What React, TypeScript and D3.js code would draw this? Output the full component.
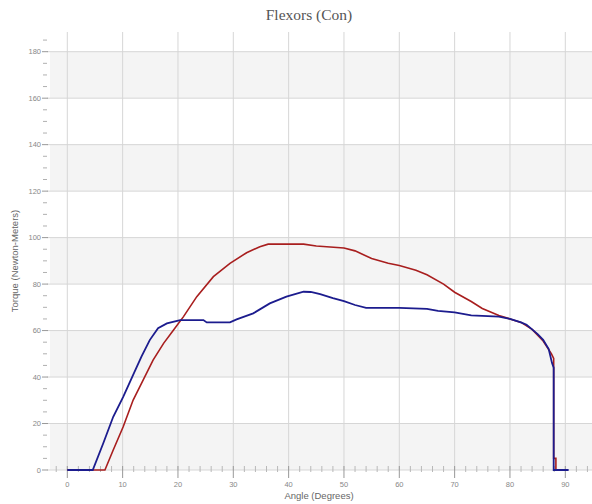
import React, { useEffect, useRef } from 'react';
import * as d3 from 'd3';

// angle (degrees) / torque (N-m) readings
const blueAngles = [0, 4.6, 6.5, 8.3, 10.1, 11.9, 13.4, 14.9, 16.4, 18, 20.4, 24.6, 25.2, 29.4, 30.6, 33.6, 36.6, 39.6, 42.7, 44, 45.7, 48, 50, 52, 54, 60, 65, 67, 70, 73, 78, 80, 82, 83, 84, 85, 86, 87, 87.6, 87.9, 87.9, 90.6];
const blueTorque = [0, 0, 11.5, 22.9, 31.5, 40.9, 48.8, 55.9, 61, 63.1, 64.5, 64.5, 63.5, 63.5, 64.8, 67.4, 71.7, 74.6, 76.7, 76.6, 75.7, 74, 72.7, 71, 69.8, 69.8, 69.3, 68.5, 67.8, 66.5, 66, 65, 63.5, 62.5, 60.5, 58.5, 56, 52, 46, 44, 0, 0];

const redAngles = [0, 6.8, 8.3, 10.1, 11.9, 13.7, 15.5, 17.4, 19.2, 21, 23.4, 26.4, 29.4, 32.4, 34.8, 36.3, 42.7, 45, 50, 52, 55, 58, 60, 63, 65, 68, 70, 73, 75, 78, 80, 82, 84, 86, 87.5, 87.9, 87.9, 88.3, 88.3, 89];
const redTorque = [0, 0, 8.6, 18.6, 30.1, 38.7, 47.3, 54.5, 60.2, 66, 74.6, 83.2, 88.9, 93.5, 96.1, 97.2, 97.2, 96.4, 95.5, 94.3, 91, 89, 88, 86, 84, 80, 76.5, 72.5, 69.5, 66.5, 65, 63.5, 60.5, 55.5, 50, 48, 5, 5, 0, 0];

const yMajor = [0, 20, 40, 60, 80, 100, 120, 140, 160, 180];
const xMajor = [0, 10, 20, 30, 40, 50, 60, 70, 80, 90];

export default function App() {
  const svgRef = useRef<SVGSVGElement>(null);

  useEffect(() => {
    const width = 592;
    const height = 504;
    const plotLeft = 48;
    const plotTop = 32;

    const svg = d3.select(svgRef.current);
    svg.selectAll('*').remove();
    svg.attr('width', width).attr('height', height);

    const x = d3.scaleLinear().domain([0, 90]).range([67.3, 565.3]);
    const y = d3.scaleLinear().domain([0, 180]).range([470, 51.7]);
    const yTopValue = y.invert(plotTop);

    svg.append('rect').attr('width', width).attr('height', height).attr('fill', '#ffffff');

    // alternating bands
    const bands = d3.range(0, 180, 40);
    svg.append('g')
      .selectAll('rect')
      .data(bands)
      .enter()
      .append('rect')
      .attr('x', plotLeft + 2)
      .attr('width', width - plotLeft - 2)
      .attr('y', d => y(d + 20))
      .attr('height', d => y(d) - y(d + 20))
      .attr('fill', '#f4f4f4');

    // vertical grid
    svg.append('g')
      .selectAll('line')
      .data(xMajor)
      .enter()
      .append('line')
      .attr('x1', d => x(d)).attr('x2', d => x(d))
      .attr('y1', y(yTopValue)).attr('y2', y(0))
      .attr('stroke', '#d6d6d6')
      .attr('stroke-width', 1);

    // horizontal grid
    svg.append('g')
      .selectAll('line')
      .data(yMajor)
      .enter()
      .append('line')
      .attr('x1', plotLeft - 1).attr('x2', width)
      .attr('y1', d => y(d)).attr('y2', d => y(d))
      .attr('stroke', '#d6d6d6')
      .attr('stroke-width', 1);

    // y axis ticks + labels
    const yMinor = d3.range(0, 186, 5).filter(v => v % 20 !== 0);
    svg.append('g')
      .selectAll('line')
      .data(yMinor)
      .enter()
      .append('line')
      .attr('x1', 43).attr('x2', 47)
      .attr('y1', d => y(d)).attr('y2', d => y(d))
      .attr('stroke', '#b0b0b0');

    svg.append('g')
      .selectAll('line')
      .data(yMajor)
      .enter()
      .append('line')
      .attr('x1', 42).attr('x2', plotLeft)
      .attr('y1', d => y(d)).attr('y2', d => y(d))
      .attr('stroke', '#999');

    svg.append('g')
      .selectAll('text')
      .data(yMajor)
      .enter()
      .append('text')
      .attr('x', 41)
      .attr('y', d => y(d))
      .attr('dy', '0.35em')
      .attr('text-anchor', 'end')
      .attr('font-family', 'Arial, Liberation Sans, sans-serif')
      .attr('font-size', 7.5)
      .attr('fill', '#888')
      .text(d => d);

    // x axis ticks + labels
    const xMinor = d3.range(-2, 95, 2).filter(v => v % 10 !== 0);
    svg.append('g')
      .selectAll('line')
      .data(xMinor)
      .enter()
      .append('line')
      .attr('x1', d => x(d)).attr('x2', d => x(d))
      .attr('y1', 466).attr('y2', 472)
      .attr('stroke', '#b8b8b8');

    svg.append('g')
      .selectAll('line')
      .data(xMajor)
      .enter()
      .append('line')
      .attr('x1', d => x(d)).attr('x2', d => x(d))
      .attr('y1', 466).attr('y2', 478)
      .attr('stroke', '#999');

    svg.append('g')
      .selectAll('text')
      .data(xMajor)
      .enter()
      .append('text')
      .attr('x', d => x(d))
      .attr('y', 487)
      .attr('text-anchor', 'middle')
      .attr('font-family', 'Arial, Liberation Sans, sans-serif')
      .attr('font-size', 7.5)
      .attr('fill', '#888')
      .text(d => d);

    // series
    const line = d3.line<[number, number]>()
      .x(d => x(d[0]))
      .y(d => y(d[1]));

    svg.append('path')
      .datum(redAngles.map((a, i) => [a, redTorque[i]] as [number, number]))
      .attr('d', line)
      .attr('fill', 'none')
      .attr('stroke', '#a81e1e')
      .attr('stroke-width', 1.6);

    svg.append('path')
      .datum(blueAngles.map((a, i) => [a, blueTorque[i]] as [number, number]))
      .attr('d', line)
      .attr('fill', 'none')
      .attr('stroke', '#1c1c8e')
      .attr('stroke-width', 1.8);

    // titles
    svg.append('text')
      .attr('x', 309)
      .attr('y', 20)
      .attr('text-anchor', 'middle')
      .attr('font-family', 'Liberation Serif, Times New Roman, serif')
      .attr('font-size', 15.5)
      .attr('fill', '#555')
      .text('Flexors (Con)');

    svg.append('text')
      .attr('x', 319)
      .attr('y', 499)
      .attr('text-anchor', 'middle')
      .attr('font-family', 'Arial, Liberation Sans, sans-serif')
      .attr('font-size', 9.5)
      .attr('fill', '#666')
      .text('Angle (Degrees)');

    svg.append('text')
      .attr('transform', 'translate(18,261) rotate(-90)')
      .attr('text-anchor', 'middle')
      .attr('font-family', 'Arial, Liberation Sans, sans-serif')
      .attr('font-size', 9.5)
      .attr('fill', '#666')
      .text('Torque (Newton-Meters)');
  }, []);

  return (
    <div style={{ position: 'absolute', left: 0, top: 0 }}>
      <svg ref={svgRef} style={{ display: 'block' }}></svg>
    </div>
  );
}
